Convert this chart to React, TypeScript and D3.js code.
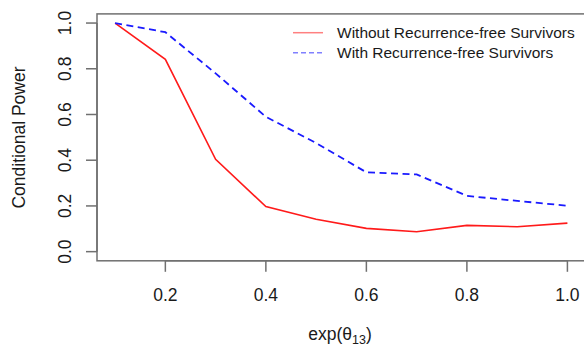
import React from "react";
import * as d3 from "d3";

const xValues = [0.1, 0.2, 0.3, 0.4, 0.5, 0.6, 0.7, 0.8, 0.9, 1.0];
const withoutRFS = [1.0, 0.841, 0.404, 0.197, 0.142, 0.102, 0.087, 0.115, 0.109, 0.125];
const withRFS = [1.0, 0.96, 0.78, 0.59, 0.475, 0.347, 0.338, 0.244, 0.222, 0.201];
const xTicks = [0.2, 0.4, 0.6, 0.8, 1.0];
const yTicks = [0.0, 0.2, 0.4, 0.6, 0.8, 1.0];
const legendLabels = ["Without Recurrence-free Survivors", "With Recurrence-free Survivors"];

const W = 584;
const H = 349;
const font = "'Liberation Sans', Arial, Helvetica, sans-serif";
const textColor = "#1a1a1a";
const axisColor = "#707070";

export default function App() {
  const x = d3.scaleLinear().domain([0.064, 1.036]).range([97, 585.5]);
  const y = d3.scaleLinear().domain([-0.04, 1.04]).range([260.8, 13.9]);

  const line = d3
    .line<number>()
    .x((_, i) => x(xValues[i]))
    .y((d) => y(d));

  const left = x(0.064);
  const right = x(1.036);
  const top = y(1.04);
  const bottom = y(-0.04);

  return (
    <svg
      width={W}
      height={H}
      style={{ position: "absolute", left: 0, top: 0, background: "#fff" }}
      fontFamily={font}
    >
      <rect x={0} y={0} width={W} height={H} fill="#fff" />
      {/* box */}
      <rect
        x={left}
        y={top}
        width={right - left}
        height={bottom - top}
        fill="none"
        stroke={axisColor}
        strokeWidth={1.5}
      />
      {/* y axis */}
      <line x1={left} x2={left} y1={y(0)} y2={y(1)} stroke={axisColor} strokeWidth={1.5} />
      {yTicks.map((t) => (
        <g key={"y" + t}>
          <line x1={left - 11} x2={left} y1={y(t)} y2={y(t)} stroke={axisColor} strokeWidth={1.5} />
          <text
            transform={`translate(71,${y(t)}) rotate(-90)`}
            textAnchor="middle"
            fontSize={17.5}
            fill={textColor}
          >
            {t.toFixed(1)}
          </text>
        </g>
      ))}
      {/* x axis */}
      <line x1={x(0.2)} x2={x(1.0)} y1={bottom} y2={bottom} stroke={axisColor} strokeWidth={1.5} />
      {xTicks.map((t) => (
        <g key={"x" + t}>
          <line x1={x(t)} x2={x(t)} y1={bottom} y2={bottom + 11} stroke={axisColor} strokeWidth={1.5} />
          <text x={x(t)} y={301} textAnchor="middle" fontSize={17.5} fill={textColor}>
            {t.toFixed(1)}
          </text>
        </g>
      ))}
      {/* axis titles */}
      <text
        transform={`translate(25,137.5) rotate(-90)`}
        textAnchor="middle"
        fontSize={17.5}
        fill={textColor}
      >
        Conditional Power
      </text>
      <text x={340} y={340} textAnchor="middle" fontSize={17.5} fill={textColor}>
        exp(θ
        <tspan fontSize={12.5} dy={4}>13</tspan>
        <tspan dy={-4}>)</tspan>
      </text>
      {/* lines */}
      <path d={line(withoutRFS) || ""} fill="none" stroke="#ff1a1a" strokeWidth={1.6} />
      <path
        d={line(withRFS) || ""}
        fill="none"
        stroke="#1a1aff"
        strokeWidth={1.8}
        strokeDasharray="7,4.5"
      />
      {/* legend */}
      <line x1={293} x2={323} y1={32.7} y2={32.7} stroke="#ff5555" strokeOpacity={0.75} strokeWidth={1.5} />
      <line
        x1={293}
        x2={323}
        y1={52.7}
        y2={52.7}
        stroke="#5555ff"
        strokeOpacity={0.75}
        strokeWidth={1.5}
        strokeDasharray="5,3"
      />
      <text x={337} y={38.3} fontSize={15.5} fill={textColor}>
        {legendLabels[0]}
      </text>
      <text x={337} y={58.3} fontSize={15.5} fill={textColor}>
        {legendLabels[1]}
      </text>
    </svg>
  );
}
